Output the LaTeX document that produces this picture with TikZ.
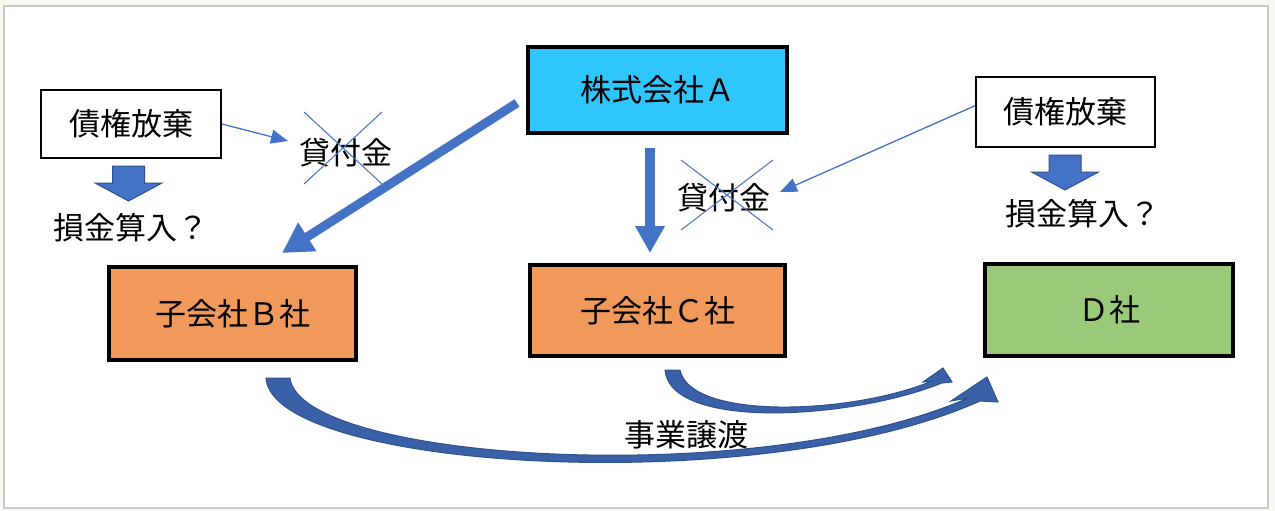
\documentclass[tikz,border=0pt]{standalone}
\usepackage{fontspec}
\setmainfont{Noto Sans CJK JP}
\usetikzlibrary{arrows.meta,shapes.misc}
\definecolor{pagebg}{HTML}{FAF8F3}
\definecolor{frameedge}{HTML}{C8C8C8}
\definecolor{cyanA}{HTML}{2EC6FC}
\definecolor{orangeBC}{HTML}{F1995B}
\definecolor{greenD}{HTML}{9BC97A}
\definecolor{arrowblue}{HTML}{4472C4}
\definecolor{arrowedge}{HTML}{2F528F}
\tikzset{company/.style 2 args={draw=black, line width=4pt, minimum width=#1, minimum height=#2, inner sep=0pt, font=\fontsize{31}{31}\selectfont},
note/.style 2 args={draw=black, line width=1.7pt, fill=white, minimum width=#1, minimum height=#2, inner sep=0pt, font=\fontsize{31}{31}\selectfont},
jlabel/.style={inner sep=0pt, font=\fontsize{31}{31}\selectfont},
%crossed out loan, width and height of the cross
cross/.style 2 args={cross out, draw=arrowblue, line width=1pt, minimum width=#1, minimum height=#2, inner sep=0pt, outer sep=0pt},
thinarrow/.style={draw=arrowblue, line width=1.3pt, -{Triangle[length=17pt,width=14pt]}},
thickarrow/.style={draw=arrowblue, line width=9pt, -{Triangle[length=30pt,width=32pt]}},
blockarrow/.style={fill=arrowblue, draw=arrowedge, line width=1pt, line join=miter},
curvearrow/.style={fill=arrowblue!85!black, draw=arrowedge, line width=1pt, line join=miter}}

\begin{document}
\begin{tikzpicture}[x=1pt, y=-1pt]

\useasboundingbox (0,0) rectangle (1275,511);
\fill[pagebg] (0,0) rectangle (1275,511);
\draw[frameedge, line width=1.5pt, fill=white] (4,6) rectangle (1268,508);

% companies
\node[company={259pt}{86pt}, fill=cyanA] (A) at (657.5,90) {株式会社Ａ};
\node[company={247pt}{93pt}, fill=orangeBC] (B) at (232.5,313.5) {子会社Ｂ社};
\node[company={255pt}{91pt}, fill=orangeBC] (C) at (657.5,310.5) {子会社Ｃ社};
\node[company={248pt}{92pt}, fill=greenD] (D) at (1109,310) {Ｄ社};

% debt waivers
\node[note={180pt}{68pt}] (saikenL) at (131,124) {債権放棄};
\node[note={179pt}{70pt}] (saikenR) at (1065.5,112) {債権放棄};

\node[jlabel] (songinL) at (131,228) {損金算入？};
\node[jlabel] (songinR) at (1083,214) {損金算入？};

\node[jlabel] (loanB) at (346,153) {貸付金};
\node[jlabel] (loanC) at (724,198) {貸付金};
\node[cross={78pt}{72pt}] (xB) at (343,148) {};
\node[cross={92pt}{70pt}] (xC) at (727,195) {};

\node[jlabel] (jigyo) at (686,435) {事業譲渡};

\coordinate (a1) at (517,103);
\coordinate (b1) at (282,253);
\coordinate (a2) at (650,148);
\coordinate (c1) at (650,253);
\coordinate (tipB) at (288,141);
\coordinate (tipC) at (780,192);

\draw[thickarrow] (a1) -- (b1);
\draw[thickarrow, line width=10pt, -{Triangle[length=27pt,width=28pt]}] (a2) -- (c1);
\draw[thinarrow] (saikenL.east) -- (tipB);
\draw[thinarrow] (saikenR.176) -- (tipC);

\foreach \cx/\ty in {128.5/166, 1065/155}
    \draw[blockarrow] (\cx-16,\ty) -- (\cx+16,\ty) -- (\cx+16,\ty+17) -- (\cx+33.5,\ty+17)
        -- (\cx,\ty+35) -- (\cx-33.5,\ty+17) -- (\cx-16,\ty+17) -- cycle;

% business transfer
\draw[curvearrow] (266,378) .. controls (272,470) and (760,500) .. (980,401)
    -- (998,402) -- (987,377) -- (951,401) -- (968,398)
    .. controls (760,490) and (300,462) .. (290,378) -- cycle;
\draw[curvearrow] (665,370) .. controls (670,430) and (850,420) .. (942,383)
    -- (952,382) -- (943,368) -- (923,382) -- (932,381)
    .. controls (850,415) and (690,420) .. (680,370) -- cycle;

\end{tikzpicture}
\end{document}
